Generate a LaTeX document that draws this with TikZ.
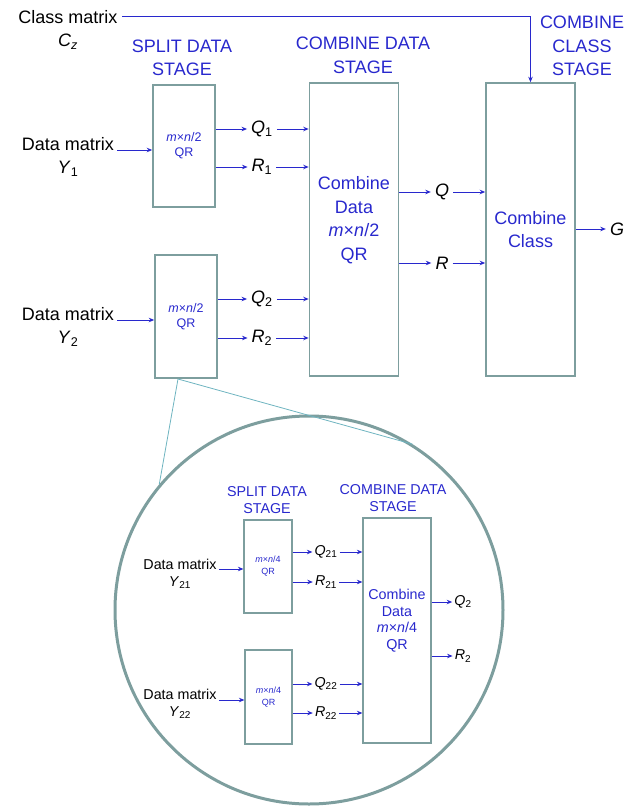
\documentclass[tikz,border=0pt]{standalone}
\usepackage{fontspec}
\setmainfont{Liberation Sans}
\usetikzlibrary{positioning, shapes.geometric, arrows.meta}
\usepackage{xcolor}
\definecolor{stageblue}{RGB}{40,40,205}
\definecolor{boxgray}{RGB}{125,158,158}
\definecolor{zoomcol}{RGB}{110,180,192}
\newcommand{\varsub}[2]{\textit{#1}\textsubscript{#2}}

\begin{document}
\begin{tikzpicture}[x=1pt, y=-1pt]
\tikzstyle{block} = [rectangle, draw=boxgray, line width=1.6pt, inner sep=0pt, align=center]
\tikzstyle{line} = [draw=stageblue, line width=0.9pt, -{Stealth[length=5.5pt, width=4.5pt]}]
\tikzstyle{big} = [font=\fontsize{18}{23.5}\selectfont, align=center, inner sep=3pt]
\tikzstyle{small} = [font=\fontsize{14.3}{16.5}\selectfont, align=center, inner sep=2pt]
\tikzstyle{stage} = [text=stageblue]
\tikzstyle{var} = [inner sep=4pt]
\useasboundingbox (0,0) rectangle (639,806);

% main picture
\node (cz) [big] at (68,30) {Class matrix\\\textit{C}\textsubscript{\textit{z}}};
\coordinate (czout) at (122,16);
\node (st1) [big, stage] at (182,58) {SPLIT DATA\\STAGE};
\node (st2) [big, stage] at (363,55.5) {COMBINE DATA\\STAGE};
\node (st3) [big, stage] at (582,46) {COMBINE\\CLASS\\STAGE};

\node (split1) [block, minimum width=62pt, minimum height=122pt, stage,
    font=\fontsize{12.5}{15}\selectfont] at (184,146) {\textit{m}×\textit{n}/2\\QR};
\node (split2) [block, minimum width=62pt, minimum height=123pt, stage,
    font=\fontsize{12.5}{15}\selectfont] at (186,316.5) {\textit{m}×\textit{n}/2\\QR};
\node (comb) [block, minimum width=89pt, minimum height=293pt] at (354,229.5) {};
\node (combtxt) [big, stage] at (354,220) {Combine\\Data\\\textit{m}×\textit{n}/2\\QR};
\node (cls) [block, big, stage, minimum width=89pt, minimum height=293pt] at (530.5,229.5) {Combine\\Class};

\node (y1) [big] at (68,157) {Data matrix\\\varsub{Y}{1}};
\node (y2) [big] at (68,327) {Data matrix\\\varsub{Y}{2}};
\node (q1) [big, var] at (262,129) {\varsub{Q}{1}};
\node (r1) [big, var] at (262,167) {\varsub{R}{1}};
\node (q2) [big, var] at (262,299) {\varsub{Q}{2}};
\node (r2) [big, var] at (262,338) {\varsub{R}{2}};
\node (q) [big, var] at (442,192) {\textit{Q}};
\node (r) [big, var] at (442,263) {\textit{R}};
\node (g) [big, var] at (617,229) {\textit{G}};

\path[line] (czout) -| (cls.north);
\path[line] (y1.east |- 0,150) -- ([yshift=-4pt]split1.west);
\path[line] (y2.east |- 0,320) -- ([yshift=-3.5pt]split2.west);
\foreach \v/\s in {q1/split1, r1/split1, q2/split2, r2/split2} {
  \path[line] (\s.east |- \v) -- (\v);
  \path[line] (\v) -- (comb.west |- \v);
}
\foreach \v in {q, r} {
  \path[line] (comb.east |- \v) -- (\v);
  \path[line] (\v) -- (cls.west |- \v);
}
\path[line] (cls.east |- g) -- (g);

% zoomed view of the lower split block
\node (zoom) [circle, draw=boxgray, line width=3pt, minimum size=388pt, inner sep=0pt] at (309,610) {};
\coordinate (zoomtip) at (178,379);
\draw[zoomcol, line width=0.8pt] (zoomtip) -- (zoom.140);
\draw[zoomcol, line width=0.8pt] (zoomtip) -- (zoom.58);

\node (ist1) [small, stage] at (267,500) {SPLIT DATA\\STAGE};
\node (ist2) [small, stage] at (393,498) {COMBINE DATA\\STAGE};

\node (isplit1) [block, line width=1.2pt, minimum width=48pt, minimum height=93pt, stage,
    font=\fontsize{9}{12}\selectfont] at (268,566.5) {\textit{m}×\textit{n}/4\\QR};
\node (isplit2) [block, line width=1.2pt, minimum width=47pt, minimum height=94pt, stage,
    font=\fontsize{9}{12}\selectfont] at (268.5,697) {\textit{m}×\textit{n}/4\\QR};
\node (icomb) [block, line width=1.2pt, minimum width=68pt, minimum height=225pt] at (397,630.5) {};
\node (icombtxt) [small, stage] at (397,620.5) {Combine\\Data\\\textit{m}×\textit{n}/4\\QR};

\node (iy1) [small] at (180,574) {Data matrix\\\varsub{Y}{21}};
\node (iy2) [small] at (180,704) {Data matrix\\\varsub{Y}{22}};
\node (iq1) [small, var, inner sep=2pt] at (326,552) {\varsub{Q}{21}};
\node (ir1) [small, var, inner sep=2pt] at (326,582) {\varsub{R}{21}};
\node (iq2) [small, var, inner sep=2pt] at (326,684) {\varsub{Q}{22}};
\node (ir2) [small, var, inner sep=2pt] at (326,713) {\varsub{R}{22}};
\node (iqout) [small, var, inner sep=2pt] at (463,602) {\varsub{Q}{2}};
\node (irout) [small, var, inner sep=2pt] at (463,656) {\varsub{R}{2}};

\path[line] (iy1.east |- 0,569) -- ([yshift=-2.5pt]isplit1.west);
\path[line] (iy2.east |- 0,700) -- ([yshift=-3pt]isplit2.west);
\foreach \v/\s in {iq1/isplit1, ir1/isplit1, iq2/isplit2, ir2/isplit2} {
  \path[line] (\s.east |- \v) -- (\v);
  \path[line] (\v) -- (icomb.west |- \v);
}
\foreach \v in {iqout, irout} {
  \path[line] (icomb.east |- \v) -- (\v);
}
\end{tikzpicture}
\end{document}
